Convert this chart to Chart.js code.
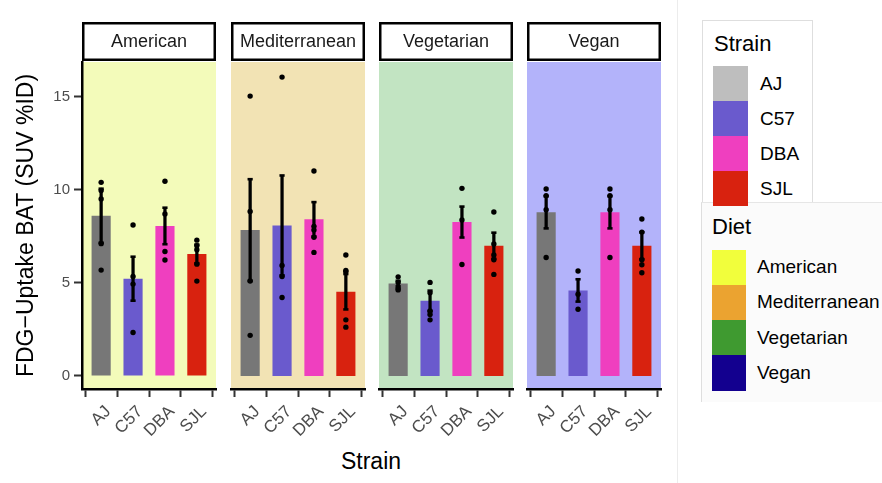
<!DOCTYPE html>
<html>
<head>
<meta charset="utf-8">
<script src="https://cdn.jsdelivr.net/npm/chart.js@4.4.1/dist/chart.umd.min.js"></script>
<style>
  html, body { margin: 0; padding: 0; background: #ffffff; }
  #wrap { position: relative; width: 882px; height: 483px; overflow: hidden;
          font-family: "Liberation Sans", Arial, Helvetica, sans-serif; }
  #wrap canvas { position: absolute; left: 0; top: 0; }
  .txt { position: absolute; white-space: nowrap; line-height: 30px; height: 30px; }
  .key { position: absolute; }
  .box { position: absolute; box-sizing: border-box; }
</style>
</head>
<body>
<div id="wrap">
  <div class="box" style="left:677px;top:0;width:1px;height:483px;background:#ececec;"></div>
  <div class="box" style="left:702px;top:20px;width:111px;height:183px;background:#ffffff;border:1px solid #dedede;border-bottom:none;"></div>
  <div class="box" style="left:701px;top:202px;width:190px;height:200px;background:#fbfbfb;border-left:1px solid #dedede;border-top:1px solid #e6e6e6;"></div>
  <div id="legend"></div>
  <div class="txt" style="left:271px;width:200px;text-align:center;top:446px;font-size:23px;color:#000;">Strain</div>
</div>
<script>
// Strains on the x axis, diets as facets
const strains = ['AJ', 'C57', 'DBA', 'SJL'];
const diets = ['American', 'Mediterranean', 'Vegetarian', 'Vegan'];

// Mean FDG uptake per strain (bar heights), by diet
const americanMean      = [8.60, 5.22, 8.05, 6.55];
const mediterraneanMean = [7.83, 8.08, 8.41, 4.52];
const vegetarianMean    = [4.96, 4.03, 8.26, 6.99];
const veganMean         = [8.78, 4.59, 8.78, 6.99];

// Standard error of the mean per strain, by diet
const americanSE      = [1.45, 1.18, 0.98, 0.50];
const mediterraneanSE = [2.73, 2.68, 0.92, 0.95];
const vegetarianSE    = [0.15, 0.55, 0.83, 0.70];
const veganSE         = [0.86, 0.60, 0.86, 0.72];

// Individual animals per strain, by diet
const americanObs = [
  [10.39, 9.95, 9.50, 7.10, 5.68],
  [8.10, 5.34, 4.93, 2.33],
  [10.45, 8.69, 6.68, 6.22],
  [7.29, 6.99, 6.77, 6.00, 5.09]
];
const mediterraneanObs = [
  [15.02, 8.83, 5.10, 2.18],
  [16.04, 5.93, 5.34, 4.21],
  [11.00, 8.03, 7.83, 7.44, 6.63],
  [6.49, 5.66, 5.60, 3.01, 2.62]
];
const vegetarianObs = [
  [5.32, 5.02, 4.70, 4.62],
  [5.02, 4.46, 3.49, 3.30, 3.01],
  [10.07, 8.37, 5.98],
  [8.80, 7.08, 6.49, 6.24, 5.45]
];
const veganObs = [
  [10.03, 9.68, 8.92, 6.36],
  [5.63, 4.39, 3.58],
  [10.03, 9.68, 8.92, 6.36],
  [8.42, 7.72, 6.24, 5.97, 5.54]
];

const yTicks = [0, 5, 10, 15];

const strainBarColors = ['#777777', '#6a5acd', '#ef3fbf', '#d8220f'];
const strainKeyColors = ['#bebebe', '#6a5acd', '#ef3fbf', '#d8220f'];
const dietKeyColors   = ['#f1fe3c', '#eba330', '#3f9a30', '#13008f'];
const panelFills      = ['#f3fbba', '#f2e3b4', '#c2e4c2', '#b3b3fa'];

const means = [americanMean, mediterraneanMean, vegetarianMean, veganMean];
const ses   = [americanSE, mediterraneanSE, vegetarianSE, veganSE];
const obs   = [americanObs, mediterraneanObs, vegetarianObs, veganObs];

const FONT = '"Liberation Sans", Arial, Helvetica, sans-serif';
Chart.defaults.font.family = FONT;

// facet layout
const W = 882, H = 483;
const panelLeft = [82, 231, 379, 527];
const panelWidth = 134;
const panelTop = 62;
const xAxisHeight = 94;

// panel background, strip label and rotated strain labels
const facetPlugin = {
  id: 'facet',
  beforeDraw(chart, args, opts) {
    const { ctx, chartArea: a } = chart;
    const w = a.right - a.left;
    ctx.save();
    ctx.fillStyle = opts.fill;
    ctx.fillRect(a.left, a.top, w, a.bottom - a.top);
    const top = a.top - 40, h = 39;
    ctx.fillStyle = '#ffffff';
    ctx.fillRect(a.left, top, w, h);
    ctx.lineWidth = 2.5;
    ctx.strokeStyle = '#000000';
    ctx.strokeRect(a.left + 1.25, top + 1.25, w - 2.5, h - 2.5);
    ctx.fillStyle = '#1a1a1a';
    ctx.font = '18px ' + FONT;
    ctx.textAlign = 'center';
    ctx.textBaseline = 'middle';
    ctx.fillText(opts.label, (a.left + a.right) / 2, top + h / 2 + 1);
    ctx.restore();
  },
  afterDraw(chart) {
    const { ctx, chartArea: a } = chart;
    const xs = chart.scales.x;
    ctx.save();
    ctx.fillStyle = '#4d4d4d';
    ctx.font = '17px ' + FONT;
    ctx.textAlign = 'right';
    ctx.textBaseline = 'top';
    strains.forEach((s, k) => {
      const px = xs.getPixelForValue(k + 1);
      ctx.save();
      ctx.translate(px + 1, a.bottom + 14);
      ctx.rotate(-Math.PI / 4);
      ctx.fillText(s, 0, 0);
      ctx.restore();
    });
    ctx.restore();
  }
};

function buildPanel(i) {
  const canvas = document.createElement('canvas');
  canvas.width = W; canvas.height = H;
  document.getElementById('wrap').appendChild(canvas);

  const m = means[i], se = ses[i], o = obs[i];
  const barData = m.map((v, k) => ({ x: k + 1, y: v }));
  const pointData = o.flatMap((arr, k) => arr.map(v => ({ x: k + 1, y: v })));
  const errData = m.map((v, k) => ({ x: k + 1, y: [v - se[k], v + se[k]] }));
  const capData = m.flatMap((v, k) => [{ x: k + 1, y: v - se[k] }, { x: k + 1, y: v + se[k] }]);

  const first = i === 0;
  new Chart(canvas, {
    type: 'bar',
    data: {
      datasets: [
        { type: 'bar', data: barData, backgroundColor: strainBarColors, grouped: false,
          categoryPercentage: 1, barPercentage: 0.6, order: 3 },
        { type: 'scatter', data: pointData, pointRadius: 2.7, pointBackgroundColor: '#000',
          pointBorderWidth: 0, order: 2 },
        { type: 'bar', data: errData, backgroundColor: '#000', grouped: false,
          barThickness: 2.6, order: 1 },
        { type: 'scatter', data: capData, pointStyle: 'line', pointRadius: 2.6,
          pointBorderWidth: 2.6, pointBorderColor: '#000', order: 0 }
      ]
    },
    options: {
      responsive: false,
      animation: false,
      devicePixelRatio: 1,
      events: [],
      layout: {
        padding: {
          left: first ? 0 : panelLeft[i],
          right: W - (panelLeft[i] + panelWidth),
          top: panelTop,
          bottom: 0
        }
      },
      plugins: {
        legend: { display: false },
        tooltip: { enabled: false },
        facet: { fill: panelFills[i], label: diets[i] }
      },
      scales: {
        x: {
          type: 'linear', min: 0.4, max: 4.6, offset: false,
          afterBuildTicks: s => { s.ticks = strains.map((_, k) => ({ value: k + 1 })); },
          afterFit: s => { s.height = xAxisHeight; },
          border: { display: true, color: '#000', width: 2.5 },
          grid: { drawOnChartArea: false, drawTicks: true, tickLength: 8, tickColor: '#333', tickWidth: 2 },
          ticks: { display: false }
        },
        y: {
          display: first,
          min: -0.7, max: 16.85,
          afterBuildTicks: s => { s.ticks = yTicks.map(v => ({ value: v })); },
          afterFit: s => { s.width = first ? panelLeft[0] : 0; },
          border: { display: true, color: '#000', width: 2.5 },
          grid: { drawOnChartArea: false, drawTicks: true, tickLength: 8, tickColor: '#333', tickWidth: 2 },
          ticks: { color: '#4d4d4d', font: { size: 15 }, padding: 4 },
          title: { display: true, text: 'FDG\u2212Uptake BAT (SUV %ID)', color: '#000',
                   font: { size: 23 }, padding: { top: 13, bottom: 0 } }
        }
      }
    },
    plugins: [facetPlugin]
  });
}

diets.forEach((_, i) => buildPanel(i));

// legend for strain and diet fills
function legendBlock(title, labels, colors, titleX, titleCy, keyX, keyTop, keyW, keyH, labelX) {
  const host = document.getElementById('legend');
  const t = document.createElement('div');
  t.className = 'txt';
  t.style.cssText = `left:${titleX}px;top:${titleCy - 15}px;font-size:22px;color:#000;`;
  t.textContent = title;
  host.appendChild(t);
  labels.forEach((lab, k) => {
    const key = document.createElement('div');
    key.className = 'key';
    key.style.cssText = `left:${keyX}px;top:${keyTop + k * keyH}px;width:${keyW}px;height:${keyH}px;background:${colors[k]};`;
    host.appendChild(key);
    const l = document.createElement('div');
    l.className = 'txt';
    l.style.cssText = `left:${labelX}px;top:${keyTop + k * keyH + keyH / 2 - 15}px;font-size:19px;color:#000;`;
    l.textContent = lab;
    host.appendChild(l);
  });
}
legendBlock('Strain', strains, strainKeyColors, 714, 44, 713, 66, 35, 35, 760);
legendBlock('Diet', diets, dietKeyColors, 712, 227, 712, 249.5, 34, 35.25, 757);
</script>
</body>
</html>
